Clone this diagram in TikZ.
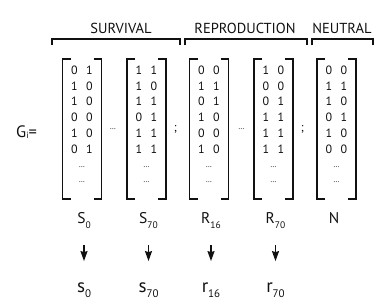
\documentclass[tikz,border=0pt]{standalone}
\usepackage{fontspec}
\setmainfont{PT Sans}
\usetikzlibrary{arrows.meta}
\definecolor{ink}{HTML}{111111}
\newcommand{\rowstep}{15.8}
\newcommand{\fs}[1]{\fontsize{#1}{#1}\selectfont}
% letter with its low index, set the way the figure sets them
\newcommand{\idx}[3]{#1\raisebox{-5pt}{\fs{#2}#3}}
% one bracketed two-column gene matrix: name, centre x, rows
\newcommand{\gmat}[3]{%
  \begin{scope}[shift={(#2,0)}, name prefix=#1-]
    \coordinate (c) at (0,129);
    \draw[brk] (-11.5,59) -- (-19.5,59) -- (-19.5,199) -- (-11.5,199);
    \draw[brk] (11.5,59) -- (19.5,59) -- (19.5,199) -- (11.5,199);
    \foreach \a/\b [count=\i] in {#3} {
      \node[digit] (r\i a) at (-7.5,{70+(\i-1)*\rowstep}) {\a};
      \node[digit] (r\i b) at (7.5,{70+(\i-1)*\rowstep}) {\b};
    }
    \node[rowdots] (r7) at (0,{72+6*\rowstep}) {…};
    \node[rowdots] (r8) at (0,{72+7*\rowstep}) {…};
  \end{scope}}

\begin{document}
\begin{tikzpicture}[x=1pt, y=-1pt, >={Stealth[length=10pt,width=7pt,inset=1pt]},
  brk/.style={ink, line width=1.5pt},
  grp/.style={ink, line width=1.3pt},
  digit/.style={inner sep=0, text=ink, font=\fs{12}},
  rowdots/.style={inner sep=0, text=ink, font=\fs{8}},
  title/.style={inner sep=0, anchor=base, text=ink, font=\fs{14.5}},
  lab/.style={inner sep=0, anchor=base, text=ink, font=\fs{15.5}},
  low/.style={inner sep=0, anchor=base, text=ink, font=\fs{19}}]
\useasboundingbox (0,0) rectangle (374,300);

% ================= groups =================
\node[title] (surv) at (121,33) {SURVIVAL};
\node[title] (repr) at (245,33) {REPRODUCTION};
\node[title] (neut) at (342,33) {NEUTRAL};
\draw[grp] (52,45) -- (52,39) -- (180,39) -- (180,45);
\draw[grp] (185,45) -- (185,39) -- (307,39) -- (307,45);
\draw[grp] (312,45) -- (312,39) -- (373,39) -- (373,45);

% ================= matrices =================
\def\xa{82} \def\xb{146.5} \def\xc{209} \def\xd{273.5} \def\xe{336.5}
\node[lab, anchor=base west, font=\fs{16.5}] (G) at (16,137) {G\raisebox{-1.5pt}{\fs{9}i}=};
\gmat{S0}{\xa}{0/1,1/0,1/0,0/0,1/0,0/1}
\gmat{S70}{\xb}{1/1,1/0,1/1,0/1,1/1,1/1}
\gmat{R16}{\xc}{0/0,1/1,0/1,1/0,0/0,1/0}
\gmat{R70}{\xd}{1/0,0/0,0/1,1/1,1/1,1/1}
\gmat{N}{\xe}{0/0,1/1,1/0,0/1,1/0,0/0}
\node[rowdots] (gapS) at (113,129) {…};
\node[rowdots] (gapR) at (241.5,129) {…};
\node[digit] (semiA) at (175.5,129) {;};
\node[digit] (semiB) at (302.5,129) {;};

% ================= labels and arrows =================
\node[lab] (S0) at (\xa+2,223) {\idx{S}{9.5}{0}};
\node[lab] (S70) at (\xb+2,223) {\idx{S}{9.5}{70}};
\node[lab] (R16) at (\xc+2,223) {\idx{R}{9.5}{16}};
\node[lab] (R70) at (\xd+2,223) {\idx{R}{9.5}{70}};
\node[lab] (N) at (\xe-2.5,223) {N};

\node[low] (s0) at (\xa+2,292) {\idx{s}{11}{0}};
\node[low] (s70) at (\xb+2,292) {\idx{s}{11}{70}};
\node[low] (r16) at (\xc+2,292) {\idx{r}{11}{16}};
\node[low] (r70) at (\xd+2,292) {\idx{r}{11}{70}};

\foreach \u/\l in {S0/s0, S70/s70, R16/r16, R70/r70}
  \draw[->, ink, line width=1.3pt, shorten <=17pt, shorten >=21pt] (\u) -- (\l);

\end{tikzpicture}
\end{document}
